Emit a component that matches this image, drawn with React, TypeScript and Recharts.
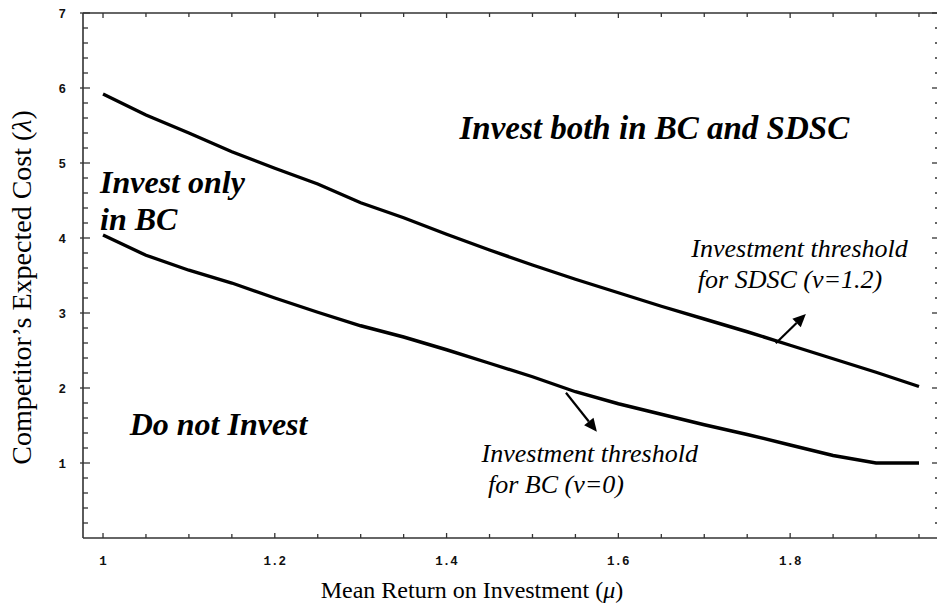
import React from "react";
import { LineChart, Line, XAxis, YAxis, ReferenceDot, ReferenceLine, Label } from "recharts";

// ---- data ----
const MU = [1.0, 1.05, 1.1, 1.15, 1.2, 1.25, 1.3, 1.35, 1.4, 1.45, 1.5, 1.55, 1.6, 1.65, 1.7, 1.75, 1.8, 1.85, 1.9, 1.95];
const SDSC = [5.92, 5.64, 5.4, 5.15, 4.93, 4.72, 4.47, 4.27, 4.05, 3.84, 3.64, 3.45, 3.27, 3.09, 2.92, 2.75, 2.57, 2.39, 2.21, 2.02];
const BC = [4.04, 3.77, 3.57, 3.4, 3.2, 3.01, 2.83, 2.68, 2.51, 2.33, 2.15, 1.95, 1.79, 1.65, 1.51, 1.38, 1.24, 1.1, 1.0, 1.0];

const X_TICKS = [1.0, 1.05, 1.1, 1.15, 1.2, 1.25, 1.3, 1.35, 1.4, 1.45, 1.5, 1.55, 1.6, 1.65, 1.7, 1.75, 1.8, 1.85, 1.9, 1.95];
const X_MAJOR = [1.0, 1.2, 1.4, 1.6, 1.8];
const X_MAJOR_LABELS = ["1", "1.2", "1.4", "1.6", "1.8"];
const Y_TICKS = [0.2, 0.4, 0.6, 0.8, 1, 1.2, 1.4, 1.6, 1.8, 2, 2.2, 2.4, 2.6, 2.8, 3, 3.2, 3.4, 3.6, 3.8, 4, 4.2, 4.4, 4.6, 4.8, 5, 5.2, 5.4, 5.6, 5.8, 6, 6.2, 6.4, 6.6, 6.8, 7];
const Y_MAJOR = [1, 2, 3, 4, 5, 6, 7];
const Y_MAJOR_LABELS = ["1", "2", "3", "4", "5", "6", "7"];

const REGION_LABELS = [
  { mu: 1.415, lam: 5.32, lines: ["Invest both in BC and SDSC"] },
  { mu: 0.9965, lam: 4.6, lines: ["Invest only", "in BC"] },
  { mu: 1.031, lam: 1.373, lines: ["Do not Invest"] },
];
const NOTE_LABELS = [
  { mu: 1.685, lam: 3.747, lines: ["Investment threshold", " for SDSC (v=1.2)"] },
  { mu: 1.4407, lam: 1.017, lines: ["Investment threshold", " for BC (v=0)"] },
];
const ARROWS = [
  { from: [1.7833, 2.596], to: [1.8183, 2.987] },
  { from: [1.539, 1.937], to: [1.575, 1.417] },
];

const DATA = MU.map((m, i) => ({ mu: m, sdsc: SDSC[i], bc: BC[i] }));

const AXIS = "#333";
const SERIF = "Liberation Serif, Times New Roman, Times, serif";
const MONO = "Liberation Mono, Courier New, monospace";

const near = (a: number, b: number) => Math.abs(a - b) < 1e-6;
const xMajorIdx = (v: number) => X_MAJOR.findIndex((m) => near(m, v));
const yMajorIdx = (v: number) => Y_MAJOR.findIndex((m) => near(m, v));

const monoStyle = { fontFamily: MONO, fontWeight: 700, fontSize: 12.5 } as React.CSSProperties;

const BottomTick = (p: any) => {
  const { x, y, payload } = p;
  const i = xMajorIdx(payload.value);
  return (
    <g>
      <line x1={x} x2={x} y1={y} y2={y - (i >= 0 ? 5 : 4)} stroke={AXIS} strokeWidth={1.3} />
      {i >= 0 && (
        <text x={x} y={y + 27} textAnchor="middle" style={monoStyle} fill="#111">
          {X_MAJOR_LABELS[i]}
        </text>
      )}
    </g>
  );
};
const TopTick = (p: any) => {
  const { x, y, payload } = p;
  const i = xMajorIdx(payload.value);
  return <line x1={x} x2={x} y1={y} y2={y + (i >= 0 ? 5 : 4)} stroke={AXIS} strokeWidth={1.3} />;
};
const LeftTick = (p: any) => {
  const { x, y, payload } = p;
  const i = yMajorIdx(payload.value);
  return (
    <g>
      <line x1={i >= 0 ? x - 3 : x} x2={i >= 0 ? x + 7 : x + 5} y1={y} y2={y} stroke={AXIS} strokeWidth={1.3} />
      {i >= 0 && (
        <text x={x - 17} y={y + 4.5} textAnchor="end" style={monoStyle} fill="#111">
          {Y_MAJOR_LABELS[i]}
        </text>
      )}
    </g>
  );
};
const RightTick = (p: any) => {
  const { x, y, payload } = p;
  const i = yMajorIdx(payload.value);
  return <line x1={i >= 0 ? x - 7 : x - 4} x2={x + 2} y1={y} y2={y} stroke={AXIS} strokeWidth={1.3} />;
};

const textShape = (lines: string[], size: number, bold: boolean, lineGap: number) => (p: any) => {
  const { cx, cy } = p;
  return (
    <text
      x={cx}
      y={cy}
      fill="#000"
      style={{
        fontFamily: SERIF,
        fontStyle: "italic",
        fontWeight: bold ? 700 : 400,
        fontSize: size,
        whiteSpace: "pre",
      }}
    >
      {lines.map((l, k) => (
        <tspan key={k} x={cx} dy={k === 0 ? 0 : lineGap}>
          {l}
        </tspan>
      ))}
    </text>
  );
};

const arrowShape = (p: any) => {
  const { x1, y1, x2, y2 } = p;
  const dx = x2 - x1;
  const dy = y2 - y1;
  const len = Math.sqrt(dx * dx + dy * dy) || 1;
  const ux = dx / len;
  const uy = dy / len;
  const hl = 13;
  const hw = 6;
  const bx = x2 - ux * hl;
  const by = y2 - uy * hl;
  const pts = `${x2},${y2} ${bx - uy * hw},${by + ux * hw} ${bx + uy * hw},${by - ux * hw}`;
  return (
    <g>
      <line x1={x1} y1={y1} x2={bx} y2={by} stroke="#000" strokeWidth={2.2} />
      <polygon points={pts} fill="#000" />
    </g>
  );
};

const YLabel = (p: any) => {
  const vb = p.viewBox;
  const cx = vb.x + 23;
  const cy = vb.y + vb.height / 2 + 12;
  return (
    <text
      x={cx}
      y={cy}
      transform={`rotate(-90, ${cx}, ${cy})`}
      textAnchor="middle"
      style={{ fontFamily: SERIF, fontSize: 28 }}
      fill="#000"
    >
      Competitor’s Expected Cost (<tspan style={{ fontStyle: "italic" }}>λ</tspan>)
    </text>
  );
};

const XLabel = (p: any) => {
  const vb = p.viewBox;
  const cx = vb.x + vb.width / 2 - 39;
  const cy = vb.y + 60;
  return (
    <text x={cx} y={cy} textAnchor="middle" style={{ fontFamily: SERIF, fontSize: 24 }} fill="#000">
      Mean Return on Investment (<tspan style={{ fontStyle: "italic" }}>μ</tspan>)
    </text>
  );
};

export default function App() {
  return (
    <div style={{ width: 945, height: 608, margin: "-8px 0 0 -8px", background: "#fff" }}>
      <LineChart width={945} height={608} data={DATA} margin={{ top: 12, right: 5, left: 8, bottom: 0 }}>
        <XAxis
          xAxisId="b"
          dataKey="mu"
          type="number"
          domain={[0.9767, 1.9733]}
          allowDataOverflow
          ticks={X_TICKS}
          interval={0}
          height={70}
          tickSize={0}
          tickMargin={0}
          tickLine={false}
          axisLine={{ stroke: AXIS, strokeWidth: 1.6 }}
          tick={BottomTick}
        >
          <Label content={XLabel} />
        </XAxis>
        <XAxis
          xAxisId="t"
          orientation="top"
          dataKey="mu"
          type="number"
          domain={[0.9767, 1.9733]}
          allowDataOverflow
          ticks={X_TICKS}
          interval={0}
          height={1}
          tickSize={0}
          tickMargin={0}
          tickLine={false}
          axisLine={{ stroke: AXIS, strokeWidth: 1.6 }}
          tick={TopTick}
        />
        <YAxis
          yAxisId="l"
          type="number"
          domain={[0, 7]}
          allowDataOverflow
          ticks={Y_TICKS}
          interval={0}
          width={75}
          tickSize={0}
          tickMargin={0}
          tickLine={false}
          axisLine={{ stroke: AXIS, strokeWidth: 1.6 }}
          tick={LeftTick}
        >
          <Label content={YLabel} />
        </YAxis>
        <YAxis
          yAxisId="r"
          orientation="right"
          type="number"
          domain={[0, 7]}
          allowDataOverflow
          ticks={Y_TICKS}
          interval={0}
          width={1}
          tickSize={0}
          tickMargin={0}
          tickLine={false}
          axisLine={{ stroke: AXIS, strokeWidth: 1.6 }}
          tick={RightTick}
        />
        <Line xAxisId="b" yAxisId="l" type="linear" dataKey="sdsc" stroke="#000" strokeWidth={3.4} dot={false} isAnimationActive={false} />
        <Line xAxisId="b" yAxisId="l" type="linear" dataKey="bc" stroke="#000" strokeWidth={3.4} dot={false} isAnimationActive={false} />
        {ARROWS.map((a, k) => (
          <ReferenceLine
            key={"a" + k}
            xAxisId="b"
            yAxisId="l"
            segment={[
              { x: a.from[0], y: a.from[1] },
              { x: a.to[0], y: a.to[1] },
            ]}
            shape={arrowShape}
            ifOverflow="visible"
          />
        ))}
        {REGION_LABELS.map((t, k) => (
          <ReferenceDot
            key={"r" + k}
            xAxisId="b"
            yAxisId="l"
            x={t.mu}
            y={t.lam}
            r={0}
            ifOverflow="visible"
            shape={textShape(t.lines, k === 0 ? 33 : 32, true, 37)}
          />
        ))}
        {NOTE_LABELS.map((t, k) => (
          <ReferenceDot
            key={"n" + k}
            xAxisId="b"
            yAxisId="l"
            x={t.mu}
            y={t.lam}
            r={0}
            ifOverflow="visible"
            shape={textShape(t.lines, 26, false, 31)}
          />
        ))}
      </LineChart>
    </div>
  );
}
